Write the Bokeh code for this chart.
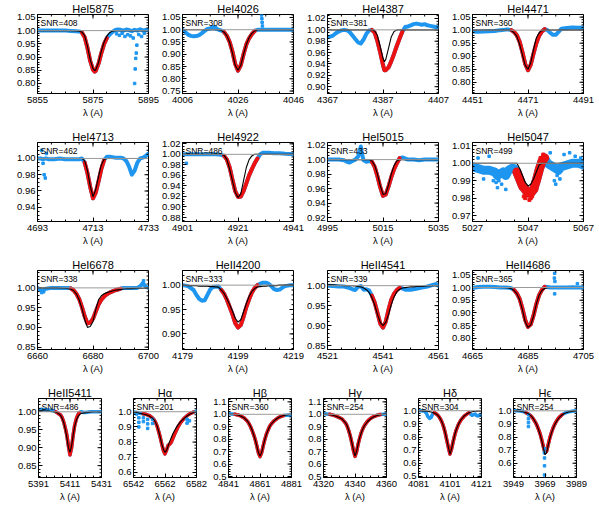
import numpy as np
from bokeh.plotting import figure
from bokeh.layouts import column, row
from bokeh.models import FixedTicker, Span, Label, Range1d, PrintfTickFormatter
from bokeh.embed import file_html
from bokeh.resources import INLINE

FONT = "Liberation Sans"
BLUE = "#1e96f0"
RED = "#ee1111"

TITLES = ["HeI5875", "HeI4026", "HeI4387", "HeI4471",
          "HeI4713", "HeI4922", "HeI5015", "HeI5047",
          "HeI6678", "HeII4200", "HeII4541", "HeII4686",
          "HeII5411", "H\u03b1", "H\u03b2", "H\u03b3", "H\u03b4", "H\u03f5"]
SNR = [408, 308, 381, 360, 462, 486, 433, 499, 338, 333, 339, 365, 486, 201, 360, 254, 304, 254]
X_CENTERS = [5875, 4026, 4387, 4471, 4713, 4921, 5015, 5047, 6680, 4199, 4541, 4685,
             5411, 6562, 4861, 4340, 4101, 3969]
Y_LIMITS = [(0.762, 1.061), (0.740, 1.062), (0.888, 1.027), (0.757, 1.060),
            (0.9225, 1.0196), (0.8724, 1.0225), (0.9146, 1.0236), (0.9666, 1.0119),
            (0.844, 1.044), (0.868, 1.030), (0.840, 1.038), (0.756, 1.067),
            (0.817, 1.037), (0.567, 1.087), (0.492, 1.127), (0.492, 1.127), (0.492, 1.093), (0.491, 1.094)]
Y_TICKS = [[0.80, 0.85, 0.90, 0.95, 1.00, 1.05],
           [0.75, 0.80, 0.85, 0.90, 0.95, 1.00, 1.05],
           [0.90, 0.92, 0.94, 0.96, 0.98, 1.00, 1.02],
           [0.80, 0.85, 0.90, 0.95, 1.00, 1.05],
           [0.94, 0.96, 0.98, 1.00],
           [0.88, 0.90, 0.92, 0.94, 0.96, 0.98, 1.00, 1.02],
           [0.92, 0.94, 0.96, 0.98, 1.00, 1.02],
           [0.97, 0.98, 0.99, 1.00, 1.01],
           [0.85, 0.90, 0.95, 1.00],
           [0.90, 0.95, 1.00],
           [0.85, 0.90, 0.95, 1.00],
           [0.80, 0.85, 0.90, 0.95, 1.00, 1.05],
           [0.85, 0.90, 0.95, 1.00],
           [0.6, 0.7, 0.8, 0.9, 1.0],
           [0.5, 0.6, 0.7, 0.8, 0.9, 1.0, 1.1],
           [0.5, 0.6, 0.7, 0.8, 0.9, 1.0, 1.1],
           [0.5, 0.6, 0.7, 0.8, 0.9, 1.0],
           [0.6, 0.7, 0.8, 0.9, 1.0]]
Y_DECIMALS = [2] * 13 + [1] * 5
FIT_WINDOWS = [(5871.0, 5880.5), (4020.4, 4032.3), (4382.2, 4394.8), (4464.9, 4477.3),
               (4709.5, 4717.6), (4916.0, 4928.6), (5010.6, 5021.8), (5042.5, 5053.7),
               (6671.7, 6690.8), (4192.2, 4206.6), (4536.2, 4547.6), (4679.3, 4691.7),
               (5402.0, 5417.7), (6546.5, 6580.7), (4844.5, 4877.8), (4323.6, 4357.3),
               (4090.4, 4113.5), (3955.6, 3981.4)]
BAND_WIDTH = [4, 4, 4, 4, 4, 4, 4, 9, 4, 4, 4, 4, 3.5, 3.5, 3.5, 3.5, 3.5, 3.5]

# ---- spectra: wavelength, observed flux, model flux ----
X_HEI5875 = [5855, 5857, 5859, 5861, 5863, 5865, 5867, 5869, 5870, 5871, 5872, 5873, 5874, 5875, 5875.6,
             5876, 5877, 5878, 5879, 5880, 5881, 5882, 5883, 5884, 5885, 5886, 5887, 5888, 5889, 5890,
             5891, 5892, 5893, 5894, 5895]
OBS_HEI5875 = [1.0, 1.0, 1.0, 1.0, 1.0, 1.0, 0.999, 0.998, 0.997, 0.993, 0.975, 0.935, 0.885, 0.852, 0.845,
               0.848, 0.875, 0.915, 0.95, 0.972, 0.985, 0.995, 1.002, 1.004, 1.003, 1.0, 1.004, 1.002, 0.998,
               1.003, 1.0, 1.005, 1.0, 1.003, 1.002]
MOD_HEI5875 = [1.0, 1.0, 1.0, 1.0, 1.0, 1.0, 1.0, 0.999, 0.998, 0.995, 0.98, 0.94, 0.89, 0.856, 0.849,
               0.852, 0.88, 0.922, 0.957, 0.98, 0.992, 0.998, 1.0, 1.0, 1.0, 1.0, 1.0, 1.0, 1.0, 1.0,
               1.0, 1.0, 1.0, 1.0, 1.0]
OUTX_HEI5875 = [5883.5, 5884.5, 5885.5, 5886.5, 5887.5, 5888.5, 5889.5, 5890.0, 5890.2, 5890.4, 5890.6,
                5890.8, 5891.5, 5892.5, 5893.5]
OUTY_HEI5875 = [0.988, 0.982, 0.99, 0.978, 0.985, 0.98, 0.972, 0.80, 0.855, 0.895, 0.915, 0.945, 0.985,
                0.978, 0.99]

X_HEI4026 = [4006, 4007, 4008, 4009, 4010, 4011, 4012, 4013, 4014, 4015, 4016, 4017, 4018, 4019, 4020,
             4021, 4022, 4023, 4024, 4025, 4026, 4027, 4028, 4029, 4030, 4031, 4032, 4033, 4034, 4036,
             4038, 4040, 4042, 4044, 4046]
OBS_HEI4026 = [1.0, 0.99, 0.98, 0.975, 0.973, 0.974, 0.978, 0.986, 0.995, 1.003, 1.005, 1.007, 1.004, 1.0,
               0.997, 0.99, 0.975, 0.95, 0.91, 0.86, 0.833, 0.855, 0.9, 0.94, 0.965, 0.982, 0.995, 1.0,
               1.0, 1.0, 1.0, 1.0, 1.0, 1.0, 1.0]
MOD_HEI4026 = [1.0, 1.0, 1.0, 1.0, 1.0, 1.0, 1.0, 1.0, 1.0, 1.0, 1.0, 1.0, 1.0, 1.0,
               0.997, 0.99, 0.975, 0.948, 0.905, 0.855, 0.835, 0.855, 0.9, 0.94, 0.968, 0.985, 0.995, 0.999,
               1.0, 1.0, 1.0, 1.0, 1.0, 1.0, 1.0]
OUTX_HEI4026 = [4016.5, 4017.2, 4018.0, 4034.5, 4034.6, 4034.7, 4034.8]
OUTY_HEI4026 = [1.01, 1.012, 1.008, 1.06, 1.045, 1.03, 1.015]

X_HEI4387 = [4367, 4368, 4369, 4370, 4371, 4372, 4373, 4374, 4375, 4376, 4377, 4378, 4379, 4380, 4381,
             4382, 4383, 4384, 4385, 4386, 4387, 4387.5, 4388, 4389, 4390, 4391, 4392, 4393, 4394, 4395,
             4396, 4397, 4398, 4399, 4400, 4401, 4402, 4403, 4404, 4405, 4406, 4407]
OBS_HEI4387 = [0.987, 0.988, 0.99, 0.994, 0.997, 0.999, 1.0, 0.999, 0.996, 0.99, 0.984, 0.978, 0.976,
               0.983, 0.993, 0.999, 1.0, 0.995, 0.98, 0.96, 0.938, 0.929, 0.929, 0.934, 0.945, 0.958,
               0.972, 0.985, 0.997, 1.005, 1.006, 1.008, 1.01, 1.011, 1.01, 1.009, 1.01, 1.008, 1.007,
               1.006, 1.005, 1.004]
MOD_HEI4387 = [1.0, 1.0, 1.0, 1.0, 1.0, 1.0, 1.0, 1.0, 1.0, 1.0, 1.0, 1.0, 1.0, 1.0, 1.0, 1.0,
               1.0, 0.998, 0.99, 0.97, 0.95, 0.944, 0.948, 0.968, 0.988, 0.997, 1.0, 1.0, 1.0, 1.0,
               1.0, 1.0, 1.0, 1.0, 1.0, 1.0, 1.0, 1.0, 1.0, 1.0, 1.0, 1.0]

X_HEI4471 = [4451, 4453, 4455, 4457, 4459, 4461, 4463, 4464, 4465, 4466, 4467, 4468, 4469, 4470, 4471,
             4472, 4473, 4474, 4475, 4476, 4477, 4478, 4479, 4480, 4481, 4482, 4483, 4485, 4487, 4489, 4491]
OBS_HEI4471 = [0.995, 0.994, 0.995, 0.996, 0.997, 1.0, 1.002, 1.002, 1.0, 0.993, 0.98, 0.955, 0.915, 0.87,
               0.846, 0.868, 0.91, 0.95, 0.978, 0.995, 1.004, 1.0, 0.99, 0.982, 0.982, 0.993, 1.005,
               1.008, 1.01, 1.009, 1.01]
MOD_HEI4471 = [1.0, 1.0, 1.0, 1.0, 1.0, 1.0, 1.0, 1.0, 0.998, 0.99, 0.975, 0.945, 0.905, 0.865, 0.85,
               0.875, 0.925, 0.97, 0.99, 0.998, 1.0, 1.0, 1.0, 1.0, 1.0, 1.0, 1.0, 1.0, 1.0, 1.0, 1.0]

X_HEI4713 = [4693, 4694, 4695, 4696, 4697, 4699, 4701, 4703, 4705, 4707, 4708, 4709, 4710, 4711, 4712,
             4713, 4714, 4715, 4716, 4717, 4718, 4719, 4721, 4723, 4724, 4725, 4726, 4727, 4728, 4729,
             4730, 4731, 4732, 4733]
OBS_HEI4713 = [1.0, 1.0, 0.999, 1.0, 0.999, 0.999, 1.0, 0.999, 0.999, 0.999, 0.999, 1.0, 0.995, 0.982,
               0.965, 0.951, 0.958, 0.972, 0.987, 0.998, 1.002, 1.002, 1.001, 1.001, 1.0, 0.997, 0.99,
               0.98, 0.985, 0.995, 1.0, 1.001, 1.003, 1.006]
MOD_HEI4713 = [1.0, 1.0, 1.0, 1.0, 1.0, 1.0, 1.0, 1.0, 1.0, 1.0, 1.0, 1.0, 0.997, 0.985, 0.966, 0.953,
               0.962, 0.978, 0.992, 0.999, 1.0, 1.0, 1.0, 1.0, 1.0, 1.0, 1.0, 1.0, 1.0, 1.0, 1.0, 1.0,
               1.0, 1.0]
OUTX_HEI4713 = [4694.5, 4695.0, 4695.4, 4695.8, 4696.2]
OUTY_HEI4713 = [1.01, 0.994, 0.98, 0.976, 1.006]

X_HEI4922 = [4901, 4903, 4905, 4907, 4909, 4911, 4913, 4915, 4916, 4917, 4918, 4919, 4920, 4921, 4922,
             4923, 4924, 4925, 4926, 4927, 4928, 4929, 4930, 4932, 4934, 4936, 4938, 4941]
OBS_HEI4922 = [1.0, 1.0, 1.0, 1.0, 1.0, 1.0, 1.0, 0.999, 0.997, 0.99, 0.975, 0.952, 0.93, 0.919, 0.92,
               0.93, 0.945, 0.96, 0.972, 0.983, 0.992, 1.0, 1.003, 1.003, 1.002, 1.002, 1.001, 1.0]
MOD_HEI4922 = [1.0, 1.0, 1.0, 1.0, 1.0, 1.0, 1.0, 1.0, 0.998, 0.99, 0.972, 0.95, 0.928, 0.918, 0.925,
               0.95, 0.975, 0.99, 0.997, 1.0, 1.0, 1.0, 1.0, 1.0, 1.0, 1.0, 1.0, 1.0]
OUTX_HEI4922 = [4902.4]
OUTY_HEI4922 = [0.983]

X_HEI5015 = [4995, 4997, 4999, 5001, 5002, 5003, 5004, 5005, 5006, 5006.6, 5007, 5007.4, 5008, 5009,
             5010, 5011, 5012, 5013, 5014, 5015, 5016, 5017, 5018, 5019, 5020, 5021, 5022, 5024, 5026,
             5028, 5030, 5032, 5035]
OBS_HEI5015 = [1.0, 1.0, 1.0, 0.999, 0.997, 0.996, 0.998, 1.0, 1.004, 1.012, 1.018, 1.008, 0.999, 0.997,
               0.998, 0.997, 0.99, 0.977, 0.962, 0.95, 0.952, 0.963, 0.976, 0.987, 0.995, 1.002, 1.003,
               1.0, 1.0, 0.999, 1.0, 1.0, 1.0]
MOD_HEI5015 = [1.0, 1.0, 1.0, 1.0, 1.0, 1.0, 1.0, 1.0, 1.0, 1.0, 1.0, 1.0, 1.0, 1.0, 1.0, 0.998, 0.992,
               0.98, 0.964, 0.952, 0.953, 0.965, 0.98, 0.992, 0.998, 1.0, 1.0, 1.0, 1.0, 1.0, 1.0, 1.0, 1.0]

X_HEI5047 = [5027, 5029, 5031, 5033, 5035, 5036, 5037, 5038, 5039, 5040, 5041, 5042, 5043, 5044, 5045,
             5046, 5047, 5048, 5049, 5050, 5051, 5052, 5053, 5054, 5055, 5056, 5057, 5058, 5059, 5061,
             5063, 5065, 5067]
OBS_HEI5047 = [0.998, 0.997, 0.996, 0.996, 0.995, 0.993, 0.994, 0.995, 0.993, 0.996, 0.997, 0.997, 0.995,
               0.991, 0.987, 0.985, 0.983, 0.983, 0.985, 0.99, 0.996, 1.001, 1.003, 1.0, 0.999, 0.998,
               0.997, 0.996, 0.998, 0.999, 1.0, 1.0, 0.999]
MOD_HEI5047 = [1.0, 1.0, 1.0, 1.0, 1.0, 1.0, 1.0, 1.0, 1.0, 1.0, 1.0, 1.0, 1.0, 0.997, 0.993, 0.989,
               0.987, 0.988, 0.991, 0.995, 0.999, 1.0, 1.0, 1.0, 1.0, 1.0, 1.0, 1.0, 1.0, 1.0, 1.0, 1.0, 1.0]
OUTX_HEI5047 = [5029, 5031, 5033, 5034.5, 5035.5, 5036, 5036.5, 5037.5, 5038.5, 5039, 5055, 5056.5, 5057,
                5057.5, 5058.5, 5060, 5062, 5064, 5066]
OUTY_HEI5047 = [1.003, 0.991, 1.004, 0.99, 0.989, 0.986, 0.99, 0.988, 0.992, 0.985, 1.006, 0.99, 0.988,
                0.993, 0.991, 1.005, 1.006, 1.004, 1.003]
REDX_HEI5047 = [5043.5, 5044.5, 5045.5, 5046, 5046.5, 5047.5, 5048, 5048.5, 5050, 5051.5, 5052.5]
REDY_HEI5047 = [0.99, 0.986, 0.981, 0.98, 0.982, 0.979, 0.98, 0.981, 0.985, 1.003, 1.005]

X_HEI6678 = [6660, 6661, 6662, 6663, 6665, 6667, 6669, 6670, 6671, 6672, 6673, 6674, 6675, 6676, 6677,
             6678, 6679, 6680, 6681, 6682, 6683, 6684, 6685, 6686, 6687, 6688, 6689, 6690, 6691, 6692,
             6694, 6696, 6697, 6698, 6699, 6700]
OBS_HEI6678 = [1.0, 0.995, 0.993, 0.998, 1.0, 1.0, 1.0, 1.0, 1.0, 0.999, 0.994, 0.985, 0.972, 0.952,
               0.928, 0.91, 0.912, 0.922, 0.94, 0.958, 0.97, 0.978, 0.984, 0.988, 0.991, 0.994, 0.996,
               0.998, 1.0, 1.0, 1.0, 1.0, 1.004, 1.012, 1.003, 1.0]
MOD_HEI6678 = [1.0, 1.0, 1.0, 1.0, 1.0, 1.0, 0.999, 0.999, 0.998, 0.997, 0.993, 0.985, 0.97, 0.948, 0.92,
               0.9, 0.902, 0.915, 0.945, 0.97, 0.98, 0.985, 0.988, 0.99, 0.992, 0.994, 0.995, 0.996,
               0.997, 0.998, 0.998, 0.999, 0.999, 0.999, 1.0, 1.0]
OUTX_HEI6678 = [6661.5, 6662.2, 6698.2]
OUTY_HEI6678 = [0.988, 0.99, 1.018]

X_HEII4200 = [4179, 4181, 4183, 4184, 4185, 4186, 4187, 4188, 4189, 4190, 4192, 4193, 4194, 4195, 4196,
              4197, 4198, 4199, 4200, 4201, 4202, 4203, 4204, 4205, 4206, 4207, 4208, 4209, 4210, 4211,
              4212, 4213, 4214, 4215, 4216, 4218, 4219]
OBS_HEII4200 = [1.0, 0.998, 0.99, 0.98, 0.972, 0.968, 0.969, 0.98, 0.991, 0.996, 0.997, 0.99, 0.982, 0.97,
                0.955, 0.94, 0.922, 0.913, 0.918, 0.935, 0.955, 0.971, 0.985, 0.994, 1.0, 1.003, 1.005,
                1.005, 1.003, 0.998, 0.992, 0.99, 0.991, 0.995, 0.998, 1.0, 1.0]
MOD_HEII4200 = [1.0, 0.999, 0.999, 0.999, 0.998, 0.998, 0.998, 0.998, 0.997, 0.997, 0.996, 0.99, 0.983,
                0.972, 0.96, 0.947, 0.932, 0.924, 0.929, 0.945, 0.962, 0.977, 0.987, 0.993, 0.996, 0.997,
                0.998, 0.998, 0.999, 0.999, 0.999, 0.999, 1.0, 1.0, 1.0, 1.0, 1.0]

X_HEII4541 = [4521, 4523, 4525, 4527, 4528, 4529, 4530, 4531, 4532, 4533, 4534, 4535, 4536, 4537, 4538,
              4539, 4540, 4541, 4542, 4543, 4544, 4545, 4546, 4547, 4548, 4549, 4550, 4551, 4552, 4553,
              4555, 4557, 4559, 4560, 4561]
OBS_HEII4541 = [1.0, 0.999, 0.998, 0.998, 0.996, 0.994, 0.991, 0.989, 0.997, 0.999, 0.99, 0.991, 0.988,
                0.975, 0.958, 0.932, 0.905, 0.895, 0.91, 0.94, 0.965, 0.98, 0.989, 0.995, 0.993, 0.99,
                0.99, 0.99, 0.991, 0.992, 0.995, 0.998, 1.002, 1.004, 1.0]
MOD_HEII4541 = [1.002, 1.002, 1.001, 1.0, 1.0, 1.0, 1.0, 0.999, 0.998, 0.997, 0.994, 0.99, 0.983, 0.97,
                0.952, 0.928, 0.908, 0.9, 0.908, 0.928, 0.953, 0.972, 0.985, 0.991, 0.994, 0.995, 0.996,
                0.997, 0.997, 0.998, 0.998, 0.999, 1.0, 1.0, 1.0]

X_HEII4686 = [4665, 4667, 4669, 4671, 4673, 4675, 4677, 4678, 4679, 4680, 4681, 4682, 4683, 4684, 4685,
              4686, 4687, 4688, 4689, 4690, 4691, 4692, 4693, 4695, 4697, 4699, 4701, 4703, 4705]
OBS_HEII4686 = [0.998, 1.002, 1.003, 1.003, 1.002, 1.0, 1.0, 0.999, 0.997, 0.99, 0.977, 0.955, 0.917,
                0.872, 0.845, 0.855, 0.89, 0.935, 0.97, 0.99, 1.003, 1.002, 1.0, 1.0, 1.0, 1.0, 1.001,
                1.0, 1.0]
MOD_HEII4686 = [1.0, 1.0, 1.0, 1.0, 1.0, 1.0, 0.999, 0.998, 0.995, 0.988, 0.975, 0.952, 0.912, 0.865,
                0.843, 0.853, 0.888, 0.935, 0.97, 0.988, 0.996, 0.999, 1.0, 1.0, 1.0, 1.0, 1.0, 1.0, 1.0]
OUTX_HEII4686 = [4694.6, 4694.5, 4694.7, 4694.6, 4702.8]
OUTY_HEII4686 = [1.056, 1.037, 1.024, 0.975, 1.015]

X_HEII5411 = [5391, 5393, 5395, 5397, 5399, 5401, 5402, 5403, 5404, 5405, 5406, 5407, 5408, 5409, 5410,
              5411, 5412, 5413, 5414, 5415, 5416, 5417, 5418, 5420, 5422, 5424, 5426, 5428, 5431]
OBS_HEII5411 = [1.006, 1.007, 1.006, 1.005, 1.004, 1.002, 1.0, 0.997, 0.994, 0.991, 0.984, 0.972, 0.955,
                0.935, 0.905, 0.88, 0.9, 0.935, 0.963, 0.98, 0.991, 0.998, 1.0, 0.998, 0.999, 1.0, 1.0,
                1.0, 1.0]
MOD_HEII5411 = [1.003, 1.003, 1.002, 1.002, 1.001, 1.0, 0.999, 0.997, 0.994, 0.99, 0.982, 0.97, 0.952,
                0.928, 0.9, 0.887, 0.905, 0.935, 0.96, 0.976, 0.986, 0.992, 0.995, 0.997, 0.998, 0.999,
                1.0, 1.0, 1.0]

X_HALPHA = [6542, 6544, 6546, 6548, 6550, 6552, 6554, 6555, 6556, 6557, 6558, 6559, 6560, 6561, 6562,
            6563, 6564, 6565, 6566, 6567, 6568, 6570, 6572, 6574, 6576, 6578, 6580, 6581, 6582]
OBS_HALPHA = [0.998, 0.995, 0.99, 0.986, 0.983, 0.975, 0.96, 0.948, 0.93, 0.905, 0.87, 0.83, 0.785, 0.745,
              0.722, 0.748, 0.778, 0.786, 0.8, 0.825, 0.85, 0.895, 0.93, 0.955, 0.974, 0.988, 0.997,
              1.0, 1.004]
MOD_HALPHA = [0.998, 0.995, 0.99, 0.985, 0.98, 0.972, 0.958, 0.947, 0.93, 0.905, 0.87, 0.83, 0.785, 0.752,
              0.733, 0.745, 0.775, 0.805, 0.83, 0.855, 0.875, 0.91, 0.935, 0.955, 0.972, 0.985, 0.995,
              0.998, 1.0]
OUTX_HALPHA = [6543, 6544, 6545.4, 6545.4, 6545.4, 6548.3, 6548.3, 6551, 6551, 6551, 6554.1, 6554.1,
               6576, 6576, 6577.5]
OUTY_HALPHA = [0.99, 0.985, 0.90, 0.93, 0.96, 0.935, 0.96, 0.89, 0.92, 0.95, 0.923, 0.95, 0.925, 0.95,
               0.94]

X_HBETA = [4841, 4843, 4845, 4847, 4849, 4851, 4853, 4854, 4855, 4856, 4857, 4858, 4859, 4860, 4861,
           4862, 4863, 4864, 4865, 4866, 4867, 4868, 4870, 4872, 4874, 4876, 4878, 4879, 4881]
OBS_HBETA = [1.005, 1.003, 1.0, 0.995, 0.985, 0.97, 0.945, 0.925, 0.9, 0.87, 0.835, 0.795, 0.745, 0.69,
             0.66, 0.69, 0.745, 0.795, 0.838, 0.87, 0.9, 0.92, 0.948, 0.968, 0.981, 0.99, 0.993, 0.992, 0.99]
MOD_HBETA = [1.0, 1.0, 0.998, 0.994, 0.985, 0.97, 0.946, 0.926, 0.902, 0.872, 0.835, 0.795, 0.745, 0.692,
             0.665, 0.692, 0.745, 0.795, 0.837, 0.87, 0.898, 0.92, 0.948, 0.968, 0.982, 0.99, 0.995,
             0.997, 0.998]

X_HGAMMA = [4320, 4322, 4324, 4326, 4328, 4330, 4332, 4334, 4335, 4336, 4337, 4338, 4339, 4340, 4341,
            4342, 4343, 4344, 4345, 4346, 4348, 4350, 4352, 4354, 4356, 4358, 4360]
OBS_HGAMMA = [1.004, 1.003, 1.0, 0.993, 0.985, 0.974, 0.96, 0.93, 0.905, 0.87, 0.825, 0.77, 0.71, 0.662,
              0.7, 0.76, 0.81, 0.853, 0.885, 0.91, 0.945, 0.968, 0.982, 0.992, 0.998, 1.0, 1.002]
MOD_HGAMMA = [1.0, 0.999, 0.997, 0.992, 0.985, 0.975, 0.96, 0.932, 0.908, 0.872, 0.828, 0.772, 0.712,
              0.665, 0.702, 0.762, 0.812, 0.852, 0.884, 0.908, 0.942, 0.965, 0.98, 0.99, 0.996, 0.999, 1.0]

X_HDELTA = [4081, 4083, 4085, 4086, 4087, 4088, 4089, 4090, 4091, 4092, 4093, 4094, 4095, 4096, 4097,
            4098, 4099, 4100, 4101, 4102, 4103, 4104, 4105, 4106, 4107, 4108, 4110, 4112, 4113, 4114,
            4115, 4116, 4117, 4118, 4119, 4120, 4121]
OBS_HDELTA = [1.0, 1.0, 0.995, 0.98, 0.955, 0.942, 0.948, 0.975, 0.985, 0.978, 0.968, 0.955, 0.935, 0.91,
              0.875, 0.83, 0.775, 0.72, 0.67, 0.71, 0.765, 0.815, 0.855, 0.885, 0.91, 0.93, 0.958, 0.977,
              0.984, 0.975, 0.965, 0.97, 0.975, 0.962, 0.96, 0.97, 0.965]
MOD_HDELTA = [1.0, 0.999, 0.997, 0.996, 0.995, 0.993, 0.99, 0.987, 0.983, 0.977, 0.968, 0.955, 0.936,
              0.911, 0.877, 0.832, 0.777, 0.722, 0.67, 0.712, 0.767, 0.817, 0.857, 0.887, 0.912, 0.932,
              0.96, 0.978, 0.985, 0.989, 0.992, 0.994, 0.996, 0.997, 0.998, 0.999, 1.0]

X_HEPS = [3949, 3951, 3953, 3955, 3957, 3959, 3960, 3961, 3962, 3963, 3964, 3965, 3966, 3967, 3968,
          3969, 3970, 3971, 3972, 3973, 3974, 3975, 3976, 3977, 3978, 3980, 3982, 3984, 3986, 3989]
OBS_HEPS = [1.0, 1.0, 0.998, 0.995, 0.985, 0.972, 0.962, 0.948, 0.93, 0.91, 0.885, 0.855, 0.82, 0.775,
            0.725, 0.68, 0.69, 0.74, 0.79, 0.83, 0.865, 0.893, 0.915, 0.935, 0.95, 0.972, 0.985, 0.992,
            0.996, 1.0]
MOD_HEPS = [1.0, 0.999, 0.997, 0.993, 0.985, 0.973, 0.963, 0.95, 0.932, 0.91, 0.885, 0.853, 0.815, 0.768,
            0.715, 0.665, 0.68, 0.735, 0.785, 0.828, 0.862, 0.89, 0.912, 0.932, 0.948, 0.97, 0.984,
            0.992, 0.996, 1.0]
OUTX_HEPS = [3958.5, 3958.5, 3958.5, 3958.6, 3968.7, 3968.7, 3968.7, 3968.6, 3968.8]
OUTY_HEPS = [0.88, 0.91, 0.94, 0.97, 0.51, 0.58, 0.64, 0.68, 0.71]

SERIES = [(X_HEI5875, OBS_HEI5875, MOD_HEI5875), (X_HEI4026, OBS_HEI4026, MOD_HEI4026),
          (X_HEI4387, OBS_HEI4387, MOD_HEI4387), (X_HEI4471, OBS_HEI4471, MOD_HEI4471),
          (X_HEI4713, OBS_HEI4713, MOD_HEI4713), (X_HEI4922, OBS_HEI4922, MOD_HEI4922),
          (X_HEI5015, OBS_HEI5015, MOD_HEI5015), (X_HEI5047, OBS_HEI5047, MOD_HEI5047),
          (X_HEI6678, OBS_HEI6678, MOD_HEI6678), (X_HEII4200, OBS_HEII4200, MOD_HEII4200),
          (X_HEII4541, OBS_HEII4541, MOD_HEII4541), (X_HEII4686, OBS_HEII4686, MOD_HEII4686),
          (X_HEII5411, OBS_HEII5411, MOD_HEII5411), (X_HALPHA, OBS_HALPHA, MOD_HALPHA),
          (X_HBETA, OBS_HBETA, MOD_HBETA), (X_HGAMMA, OBS_HGAMMA, MOD_HGAMMA),
          (X_HDELTA, OBS_HDELTA, MOD_HDELTA), (X_HEPS, OBS_HEPS, MOD_HEPS)]
BLUE_OUTLIERS = {0: (OUTX_HEI5875, OUTY_HEI5875), 1: (OUTX_HEI4026, OUTY_HEI4026),
                 4: (OUTX_HEI4713, OUTY_HEI4713), 5: (OUTX_HEI4922, OUTY_HEI4922),
                 7: (OUTX_HEI5047, OUTY_HEI5047), 8: (OUTX_HEI6678, OUTY_HEI6678),
                 11: (OUTX_HEII4686, OUTY_HEII4686), 13: (OUTX_HALPHA, OUTY_HALPHA),
                 17: (OUTX_HEPS, OUTY_HEPS)}
RED_OUTLIERS = {7: (REDX_HEI5047, REDY_HEI5047)}

FH = 79
TICK_FS = "9.5px"


def style_axis(ax, ticker):
    ax.ticker = ticker
    ax.major_tick_in = 4
    ax.major_tick_out = 0
    ax.minor_tick_in = 2
    ax.minor_tick_out = 0
    ax.axis_line_color = "black"
    ax.major_tick_line_color = "black"
    ax.minor_tick_line_color = "black"
    ax.major_label_text_font = FONT
    ax.major_label_text_font_size = TICK_FS
    ax.major_label_text_color = "black"


def make_panel(k, fw, bl, br, bb):
    c = X_CENTERS[k]
    xs, obs, mod = SERIES[k]
    xs = np.array(xs, dtype=float)
    obs = np.array(obs, dtype=float)
    mod = np.array(mod, dtype=float)
    lo, hi = FIT_WINDOWS[k]
    y0, y1 = Y_LIMITS[k]
    xa, xb = c - 20, c + 20
    p = figure(frame_width=fw, frame_height=FH, x_range=Range1d(xa, xb),
               y_range=Range1d(y0, y1), output_backend="svg", toolbar_location=None,
               min_border_left=bl, min_border_right=br, min_border_top=10, min_border_bottom=bb,
               title=TITLES[k])
    p.title.text_font = FONT
    p.title.text_font_size = "11px"
    p.title.text_font_style = "normal"
    p.title.text_color = "black"
    p.title.align = "center"
    p.title.standoff = 0
    p.grid.visible = False
    p.outline_line_color = "black"
    p.outline_line_width = 1
    p.background_fill_color = "white"
    p.border_fill_color = "white"

    yt = Y_TICKS[k]
    step = round(yt[1] - yt[0], 4)
    ndiv = 4 if abs(step - 0.02) < 1e-6 else 5
    ym = [round(v, 5) for v in np.arange(yt[0] - step, yt[-1] + step + 1e-9, step / ndiv)]
    xmaj = [xa, c, xb]
    xmin_ = [xa + 5 * i for i in range(9)]

    style_axis(p.yaxis[0], FixedTicker(ticks=yt, minor_ticks=ym))
    p.yaxis[0].major_label_standoff = 2
    p.yaxis[0].formatter = PrintfTickFormatter(format="%%.%df" % Y_DECIMALS[k])
    style_axis(p.xaxis[0], FixedTicker(ticks=xmaj, minor_ticks=xmin_))
    p.xaxis[0].major_label_standoff = 3
    p.xaxis[0].formatter = PrintfTickFormatter(format="%d")
    p.xaxis[0].axis_label = "\u03bb (A)"
    p.xaxis[0].axis_label_text_font = FONT
    p.xaxis[0].axis_label_text_font_size = TICK_FS
    p.xaxis[0].axis_label_text_font_style = "normal"
    p.xaxis[0].axis_label_text_color = "black"
    p.xaxis[0].axis_label_standoff = 1

    bw = BAND_WIDTH[k]
    p.line(xs, obs, line_color=BLUE, line_width=bw, line_join="round", line_cap="round")
    mask = (xs >= lo) & (xs <= hi)
    p.line(xs[mask], obs[mask], line_color=RED, line_width=bw, line_join="round", line_cap="round")
    if k in RED_OUTLIERS:
        rx, ry = RED_OUTLIERS[k]
        p.scatter(rx, ry, marker="square", size=3, color=RED)
    if k in BLUE_OUTLIERS:
        ox, oy = BLUE_OUTLIERS[k]
        p.scatter(ox, oy, marker="square", size=2.5, color=BLUE)
    p.add_layout(Span(location=1.0, dimension="width", line_color="#9a9a9a", line_width=1))
    p.line(xs, mod, line_color="black", line_width=1.1)

    # mirrored tick marks on the right and top edges of the frame box
    dxp = (xb - xa) / fw
    dyp = (y1 - y0) / FH
    ymaj_in = [v for v in yt if y0 <= v <= y1]
    ymin_in = [v for v in ym if y0 <= v <= y1]
    ry_all = ymaj_in + ymin_in
    rl = [4] * len(ymaj_in) + [2] * len(ymin_in)
    p.segment(x0=[xb] * len(ry_all), y0=ry_all, x1=[xb - l * dxp for l in rl], y1=ry_all,
              line_color="black", line_width=1)
    tx_all = xmaj + xmin_
    tl = [4] * len(xmaj) + [2] * len(xmin_)
    p.segment(x0=tx_all, y0=[y1] * len(tx_all), x1=tx_all, y1=[y1 - l * dyp for l in tl],
              line_color="black", line_width=1)

    p.add_layout(Label(x=xa, y=y1, text="SNR=%d" % SNR[k], x_offset=3, y_offset=-3,
                       text_baseline="top", text_font=FONT, text_font_size="8.5px",
                       text_color="black"))
    return p


rows = []
for r in range(3):
    rows.append(row(*[make_panel(4 * r + j, 111, 37 if j == 0 else 21, 11, 35) for j in range(4)]))
rows.append(row(*[make_panel(12 + j, 63, 38 if j == 0 else 21, 11, 26) for j in range(6)]))
layout = column(*rows)

open("out.html", "w", encoding="utf-8").write(file_html(layout, INLINE))
